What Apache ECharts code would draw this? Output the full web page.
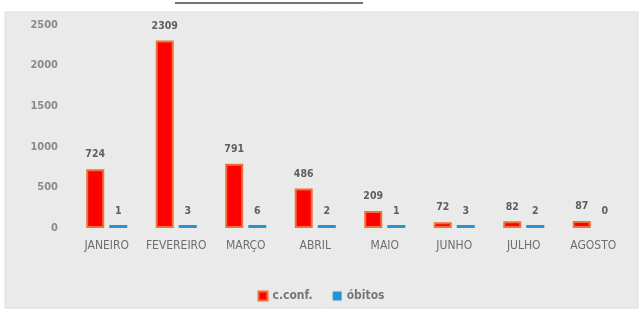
<!DOCTYPE html>
<html>
<head>
<meta charset="utf-8">
<script src="https://cdn.jsdelivr.net/npm/echarts@6/dist/echarts.min.js"></script>
<style>
html,body{margin:0;padding:0;background:#fff;}
#chart{width:642px;height:313px;}
</style>
</head>
<body>
<div id="chart"></div>
<script>
var meses = ['JANEIRO','FEVEREIRO','MARÇO','ABRIL','MAIO','JUNHO','JULHO','AGOSTO'];
var casosConf = [724, 2309, 791, 486, 209, 72, 82, 87];
var obitos = [1, 3, 6, 2, 1, 3, 2, 0];
var yTicks = [0, 500, 1000, 1500, 2000, 2500];

var fonte = 'DejaVu Sans Condensed';

// barras de óbitos: valor pequeno vira uma linha, zero não aparece
var obitosData = obitos.map(function (v) {
    if (v === 0) {
        return {value: v, itemStyle: {color: 'transparent'}};
    }
    return v;
});

var chart = echarts.init(document.getElementById('chart'));
chart.setOption({
    backgroundColor: '#ffffff',
    animation: false,
    graphic: [
        {type: 'rect', shape: {x: 5, y: 12, width: 633, height: 296},
         style: {fill: '#eaeaea', stroke: '#dcdcdc', lineWidth: 1}, z: -10},
        {type: 'line', shape: {x1: 175, y1: 3, x2: 363, y2: 3},
         style: {stroke: '#444', lineWidth: 1.5}}
    ],
    grid: {left: 72, right: 14, top: 25, bottom: 85},
    legend: {
        bottom: 6,
        left: 'center',
        icon: 'rect',
        itemWidth: 9,
        itemHeight: 9,
        itemGap: 20,
        textStyle: {fontFamily: fonte, fontWeight: 'bold', fontSize: 12, color: '#767676'},
        data: ['c.conf.', 'óbitos']
    },
    xAxis: {
        type: 'category',
        data: meses,
        axisLine: {show: false},
        axisTick: {show: false},
        axisLabel: {interval: 0, fontFamily: fonte, fontSize: 12, color: '#6e6e6e', margin: 12}
    },
    yAxis: {
        type: 'value',
        min: yTicks[0],
        max: yTicks[yTicks.length - 1],
        interval: 500,
        splitLine: {show: false},
        axisLine: {show: false},
        axisTick: {show: false},
        axisLabel: {fontFamily: fonte, fontWeight: 'bold', fontSize: 11, color: '#8a8a8a', margin: 14,
                    formatter: function (v) { return String(v); }}
    },
    series: [
        {
            name: 'c.conf.',
            type: 'bar',
            data: casosConf,
            barWidth: 18,
            barGap: '28%',
            itemStyle: {color: '#ff0000', borderColor: '#f07038', borderWidth: 2},
            label: {show: true, position: 'top', distance: 9, fontFamily: fonte,
                    fontWeight: 'bold', fontSize: 10.5, color: '#5e5e5e'}
        },
        {
            name: 'óbitos',
            type: 'bar',
            data: obitosData,
            barWidth: 18,
            barMinHeight: 3,
            itemStyle: {color: '#2694d0'},
            label: {show: true, position: 'top', distance: 8, fontFamily: fonte,
                    fontWeight: 'bold', fontSize: 10.5, color: '#5e5e5e'}
        }
    ]
});
</script>
</body>
</html>
